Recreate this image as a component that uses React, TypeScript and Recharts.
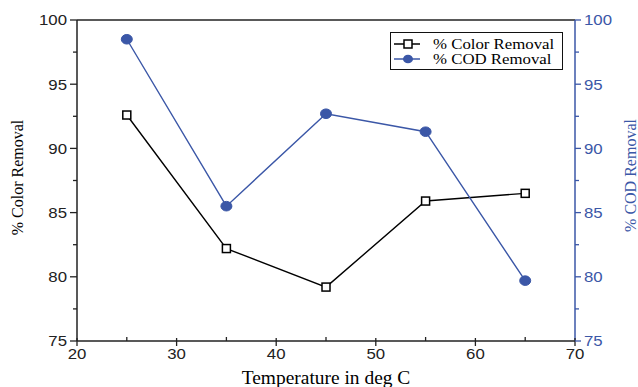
import * as React from "react";
import { Label, Legend, Line, LineChart, XAxis, YAxis } from "recharts";

const temperatures = [25, 35, 45, 55, 65];
const colorRemoval = [92.6, 82.2, 79.2, 85.9, 86.5];
const codRemoval = [98.5, 85.5, 92.7, 91.3, 79.7];

const xTicks = [20, 25, 30, 35, 40, 45, 50, 55, 60, 65, 70];
const yTicks = [75, 77.5, 80, 82.5, 85, 87.5, 90, 92.5, 95, 97.5, 100];

const BLUE = "#3b57a7";
const DARK = "#222";
const SANS = "'Liberation Sans', Arial, sans-serif";
const SERIF = "'Liberation Serif', 'Times New Roman', serif";
const STRETCH = 1.12;

const data = temperatures.map((t, i) => ({
  temp: t,
  color: colorRemoval[i],
  cod: codRemoval[i],
}));

function LeftTick({ x, y, payload }: any) {
  const major = payload.value % 5 === 0;
  return (
    <g>
      <line x1={x - (major ? 7 : 4)} x2={x} y1={y} y2={y} stroke={DARK} strokeWidth={1.3} />
      {major && (
        <text
          transform={`translate(${x - 10},${y}) scale(${STRETCH},1)`}
          textAnchor="end"
          dy="0.36em"
          fontFamily={SANS}
          fontSize={15}
          fill={DARK}
        >
          {payload.value}
        </text>
      )}
    </g>
  );
}

function RightTick({ x, y, payload }: any) {
  const major = payload.value % 5 === 0;
  return (
    <g>
      <line x1={x} x2={x + (major ? 6 : 4)} y1={y} y2={y} stroke={BLUE} strokeWidth={1.3} />
      {major && (
        <text
          transform={`translate(${x + 9},${y}) scale(${STRETCH},1)`}
          textAnchor="start"
          dy="0.36em"
          fontFamily={SANS}
          fontSize={15}
          fill={BLUE}
        >
          {payload.value}
        </text>
      )}
    </g>
  );
}

function BottomTick({ x, y, payload }: any) {
  const major = payload.value % 10 === 0;
  return (
    <g>
      {major ? (
        <line x1={x} x2={x} y1={y - 3} y2={y + 5} stroke={DARK} strokeWidth={1.3} />
      ) : (
        <line x1={x} x2={x} y1={y - 4} y2={y} stroke={DARK} strokeWidth={1.3} />
      )}
      {major && (
        <text
          transform={`translate(${x},${y + 7}) scale(${STRETCH},1)`}
          textAnchor="middle"
          dy="0.75em"
          fontFamily={SANS}
          fontSize={15}
          fill={DARK}
        >
          {payload.value}
        </text>
      )}
    </g>
  );
}

function TopTick({ x, y, payload }: any) {
  const major = payload.value % 10 === 0;
  return <line x1={x} x2={x} y1={y} y2={y + (major ? 6 : 3)} stroke={DARK} strokeWidth={1.3} />;
}

function SquareDot({ cx, cy }: any) {
  if (cx == null || cy == null) return null;
  return <rect x={cx - 4} y={cy - 4} width={8} height={8} fill="#fff" stroke="#000" strokeWidth={1.5} />;
}

function CircleDot({ cx, cy }: any) {
  if (cx == null || cy == null) return null;
  return <ellipse cx={cx} cy={cy} rx={5.5} ry={4.8} fill={BLUE} stroke={BLUE} />;
}

function LegendBox() {
  const rows = [
    { name: "% Color Removal", stroke: "#000", square: true },
    { name: "% COD Removal", stroke: BLUE, square: false },
  ];
  return (
    <div
      style={{
        width: 173,
        height: 38,
        border: "1.5px solid #111",
        background: "#fff",
        boxSizing: "border-box",
      }}
    >
      <svg width={170} height={35}>
        {rows.map((r, i) => {
          const cy = 11 + i * 15;
          return (
            <g key={r.name}>
              <line x1={3} x2={29} y1={cy} y2={cy} stroke={r.stroke} strokeWidth={1.5} />
              {r.square ? (
                <rect x={13} y={cy - 4} width={8} height={8} fill="#fff" stroke="#000" strokeWidth={1.5} />
              ) : (
                <ellipse cx={17} cy={cy} rx={5} ry={4.3} fill={BLUE} />
              )}
              <text
                transform={`translate(42,${cy}) scale(1.2,1)`}
                dy="0.33em"
                fontFamily={SERIF}
                fontSize={14}
                fill="#000"
              >
                {r.name}
              </text>
            </g>
          );
        })}
      </svg>
    </div>
  );
}

export default function App() {
  return (
    <div style={{ position: "absolute", left: 0, top: 0, width: 638, height: 387, background: "#fff" }}>
      <LineChart width={638} height={387} data={data} margin={{ top: 0, right: 0, bottom: 0, left: 0 }}>
        <XAxis
          dataKey="temp"
          type="number"
          domain={[20, 70]}
          ticks={xTicks}
          interval={0}
          height={46}
          tickSize={0}
          tickMargin={0}
          tickLine={false}
          tick={<BottomTick />}
          axisLine={{ stroke: DARK, strokeWidth: 1.5 }}
        >
          <Label
            content={({ viewBox }: any) => (
              <text
                transform={`translate(${viewBox.x + viewBox.width / 2},${viewBox.y + 43}) scale(1.08,1)`}
                textAnchor="middle"
                fontFamily={SERIF}
                fontSize={18}
                fill="#000"
              >
                Temperature in deg C
              </text>
            )}
          />
        </XAxis>
        <XAxis
          xAxisId="top"
          orientation="top"
          type="number"
          domain={[20, 70]}
          ticks={xTicks}
          interval={0}
          height={20}
          tickSize={0}
          tickMargin={0}
          tickLine={false}
          tick={<TopTick />}
          axisLine={{ stroke: DARK, strokeWidth: 1.5 }}
        />
        <YAxis
          yAxisId="left"
          domain={[75, 100]}
          ticks={yTicks}
          interval={0}
          width={77}
          tickSize={0}
          tickMargin={0}
          tickLine={false}
          tick={<LeftTick />}
          axisLine={{ stroke: DARK, strokeWidth: 1.5 }}
        >
          <Label
            content={({ viewBox }: any) => {
              const cy = viewBox.y + viewBox.height / 2 - 3;
              return (
                <text
                  transform={`translate(23,${cy}) rotate(-90)`}
                  textAnchor="middle"
                  fontFamily={SERIF}
                  fontSize={16}
                  fill="#000"
                >
                  % Color Removal
                </text>
              );
            }}
          />
        </YAxis>
        <YAxis
          yAxisId="right"
          orientation="right"
          domain={[75, 100]}
          ticks={yTicks}
          interval={0}
          width={63}
          tickSize={0}
          tickMargin={0}
          tickLine={false}
          tick={<RightTick />}
          axisLine={{ stroke: BLUE, strokeWidth: 1.5 }}
        >
          <Label
            content={({ viewBox }: any) => {
              const cy = viewBox.y + viewBox.height / 2 - 5;
              return (
                <text
                  transform={`translate(636,${cy}) rotate(-90)`}
                  textAnchor="middle"
                  fontFamily={SERIF}
                  fontSize={16}
                  fill={BLUE}
                >
                  % COD Removal
                </text>
              );
            }}
          />
        </YAxis>
        <Legend
          layout="vertical"
          align="center"
          verticalAlign="middle"
          content={() => <LegendBox />}
          wrapperStyle={{ position: "absolute", left: 390, top: 32, width: 173, height: 38 }}
        />
        <Line
          yAxisId="left"
          dataKey="color"
          name="% Color Removal"
          stroke="#000"
          strokeWidth={1.4}
          dot={<SquareDot />}
          activeDot={false}
          isAnimationActive={false}
        />
        <Line
          yAxisId="right"
          dataKey="cod"
          name="% COD Removal"
          stroke={BLUE}
          strokeWidth={1.4}
          dot={<CircleDot />}
          activeDot={false}
          isAnimationActive={false}
        />
      </LineChart>
    </div>
  );
}
